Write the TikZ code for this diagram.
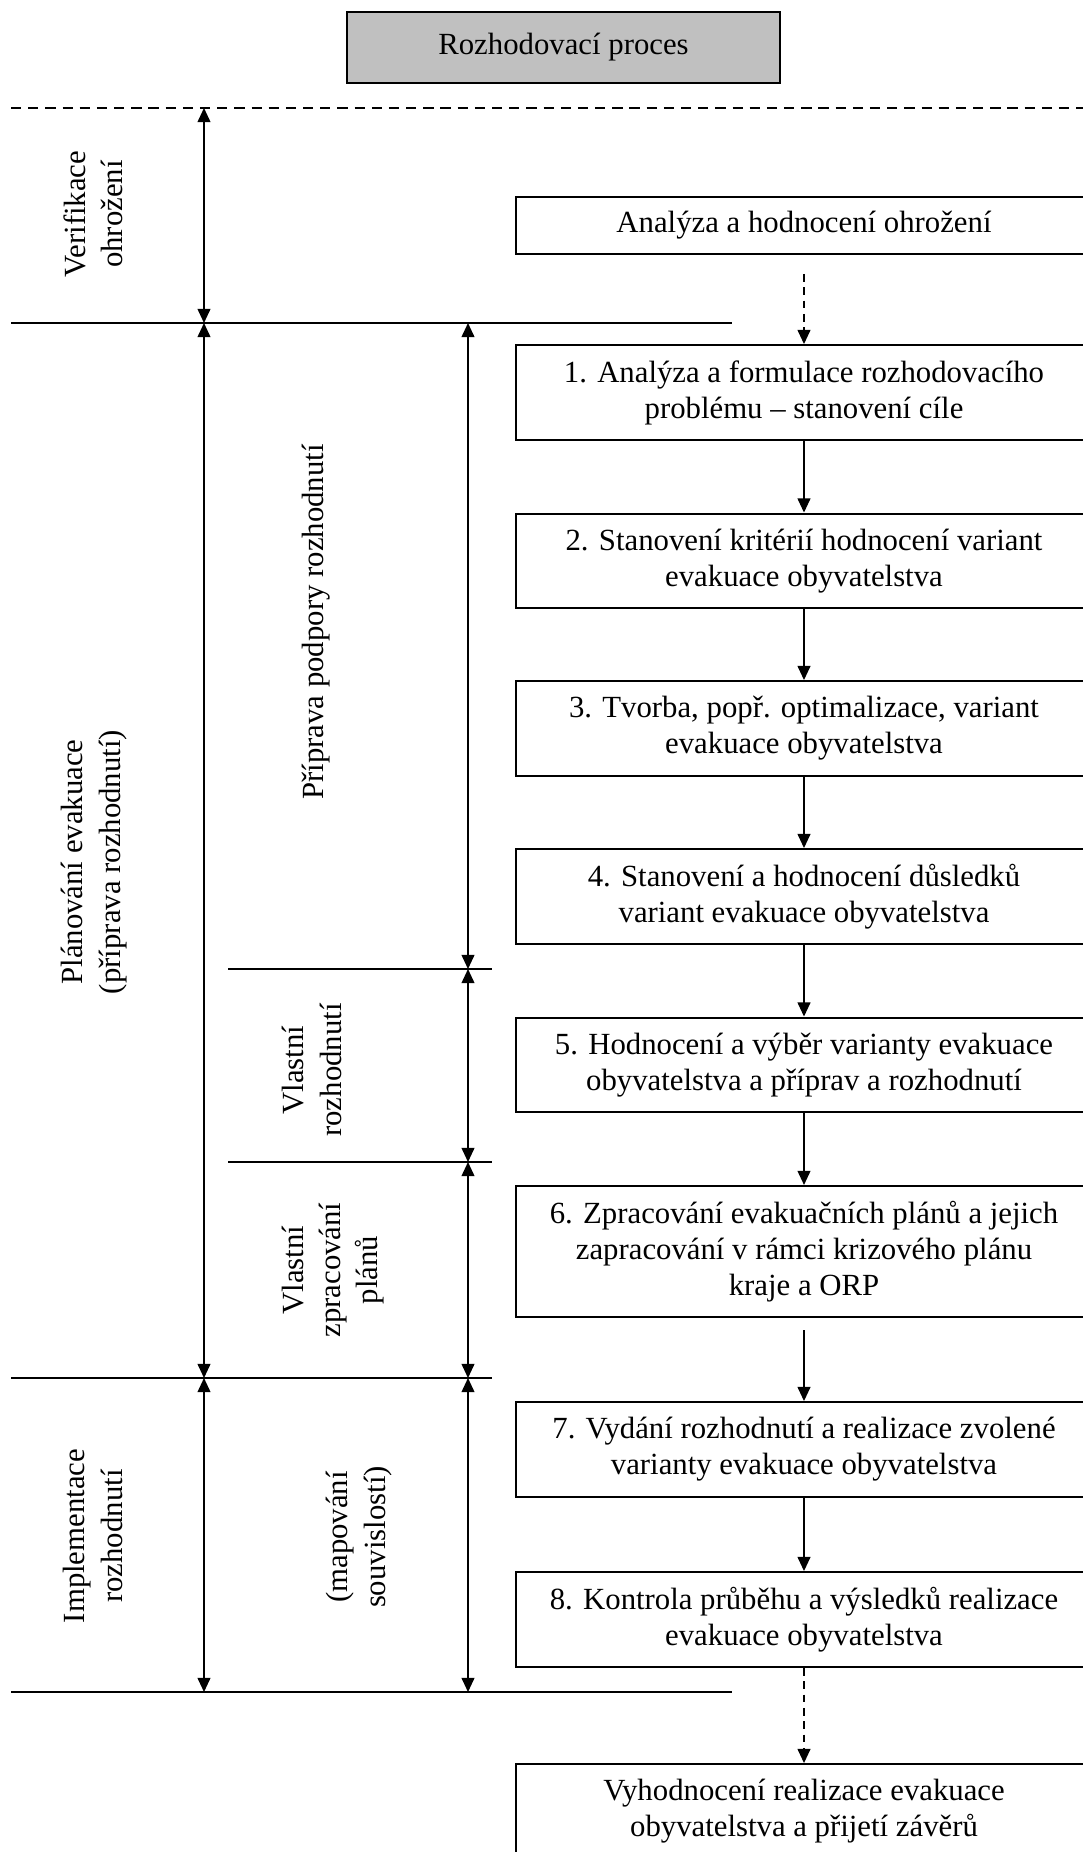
\documentclass[tikz,border=0pt]{standalone}
\usepackage{fontspec}
\setmainfont{Liberation Serif}
\usepackage{tikz}
\usetikzlibrary{arrows.meta, positioning}
\definecolor{GrayHead}{HTML}{C0C0C0}
\tikzset{
  stepbox/.style={
    rectangle, draw=black, line width=0.8pt,
    minimum width=224.6pt, minimum height=#1,
    align=center, inner sep=2pt,
    font=\fontsize{12}{14}\selectfont
  },
  stepbox/.default=37pt,
  headbox/.style={stepbox=27.7pt, minimum width=168.9pt, fill=GrayHead},
  vlabel/.style={rotate=90, align=center, inner sep=0pt, font=\fontsize{12}{14.5}\selectfont},
  arr/.style={-{Triangle[length=5.5pt, width=5pt]}, line width=0.6pt},
  dArr/.style={arr, dash pattern=on 3pt off 2.2pt},
  dimArr/.style={{Triangle[length=5.5pt, width=5pt]}-{Triangle[length=5.5pt, width=5pt]}, line width=0.6pt},
  rule/.style={line width=0.8pt},
}
\begin{document}
\begin{tikzpicture}[x=0.39pt, y=-0.39pt]
\useasboundingbox (0,0) rectangle (1083,1852);
\clip (0,0) rectangle (1083,1852);

% Heading
\node[headbox] (head) at (563.5,47.5) {Rozhodovací proces};

% Process steps
\node[stepbox=22.2pt] (threat) at (804,225.5) {Analýza a hodnocení ohrožení};
\node[stepbox] (s1) at (804,392.5) {1. Analýza a formulace rozhodovacího\\problému -- stanovení cíle};
\node[stepbox] (s2) at (804,561) {2. Stanovení kritérií hodnocení variant\\evakuace obyvatelstva};
\node[stepbox] (s3) at (804,728.5) {3. Tvorba, popř. optimalizace, variant\\evakuace obyvatelstva};
\node[stepbox] (s4) at (804,896.5) {4. Stanovení a hodnocení důsledků\\variant evakuace obyvatelstva};
\node[stepbox] (s5) at (804,1065) {5. Hodnocení a výběr varianty evakuace\\obyvatelstva a příprav a rozhodnutí};
\node[stepbox=51.1pt] (s6) at (804,1251.5) {6. Zpracování evakuačních plánů a jejich\\zapracování v rámci krizového plánu\\kraje a ORP};
\node[stepbox] (s7) at (804,1449.5) {7. Vydání rozhodnutí a realizace zvolené\\varianty evakuace obyvatelstva};
\node[stepbox] (s8) at (804,1619.5) {8. Kontrola průběhu a výsledků realizace\\evakuace obyvatelstva};
\node[stepbox] (eval) at (804,1811.5) {Vyhodnocení realizace evakuace\\obyvatelstva a přijetí závěrů};

\draw[dArr, shorten <=7.4pt] (threat.south) -- (s1.north);
\draw[arr] (s1) -- (s2);
\draw[arr] (s2) -- (s3);
\draw[arr] (s3) -- (s4);
\draw[arr] (s4) -- (s5);
\draw[arr] (s5) -- (s6);
\draw[arr, shorten <=4.7pt] (s6) -- (s7);
\draw[arr] (s7) -- (s8);
\draw[dArr] (s8) -- (eval);

% Phase boundaries
\coordinate (outer) at (204,0);
\coordinate (inner) at (468,0);
\coordinate (top) at (11,108);
\coordinate (hVer) at (11,323);
\coordinate (hPrep) at (228,969);
\coordinate (hOwn) at (228,1162);
\coordinate (hPlan) at (11,1378);
\coordinate (hEnd) at (11,1692);

\draw[rule, dash pattern=on 4pt off 2.7pt] (top) -- (1083,108);
\draw[rule] (hVer) -- (732,323);
\draw[rule] (hPrep) -- (492,969);
\draw[rule] (hOwn) -- (492,1162);
\draw[rule] (hPlan) -- (492,1378);
\draw[rule] (hEnd) -- (732,1692);

% Phase spans
\draw[dimArr] (top -| outer) -- (hVer -| outer);
\draw[dimArr] (hVer -| outer) -- (hPlan -| outer);
\draw[dimArr] (hPlan -| outer) -- (hEnd -| outer);
\draw[dimArr] (hVer -| inner) -- (hPrep -| inner);
\draw[dimArr] (hPrep -| inner) -- (hOwn -| inner);
\draw[dimArr] (hOwn -| inner) -- (hPlan -| inner);
\draw[dimArr] (hPlan -| inner) -- (hEnd -| inner);

% Phase labels
\node[vlabel] (verif) at (93,214) {Verifikace\\ohrožení};
\node[vlabel] (plan) at (94,862) {Plánování evakuace\\(příprava rozhodnutí)};
\node[vlabel] (impl) at (93,1536) {Implementace\\rozhodnutí};
\node[vlabel] (prep) at (316,622) {Příprava podpory rozhodnutí};
\node[vlabel] (own) at (312,1070) {Vlastní\\rozhodnutí};
\node[vlabel] (ownPlan) at (333,1270) {Vlastní\\zpracování\\plánů};
\node[vlabel] (map) at (359,1537) {(mapování\\souvislostí)};

\end{tikzpicture}
\end{document}
